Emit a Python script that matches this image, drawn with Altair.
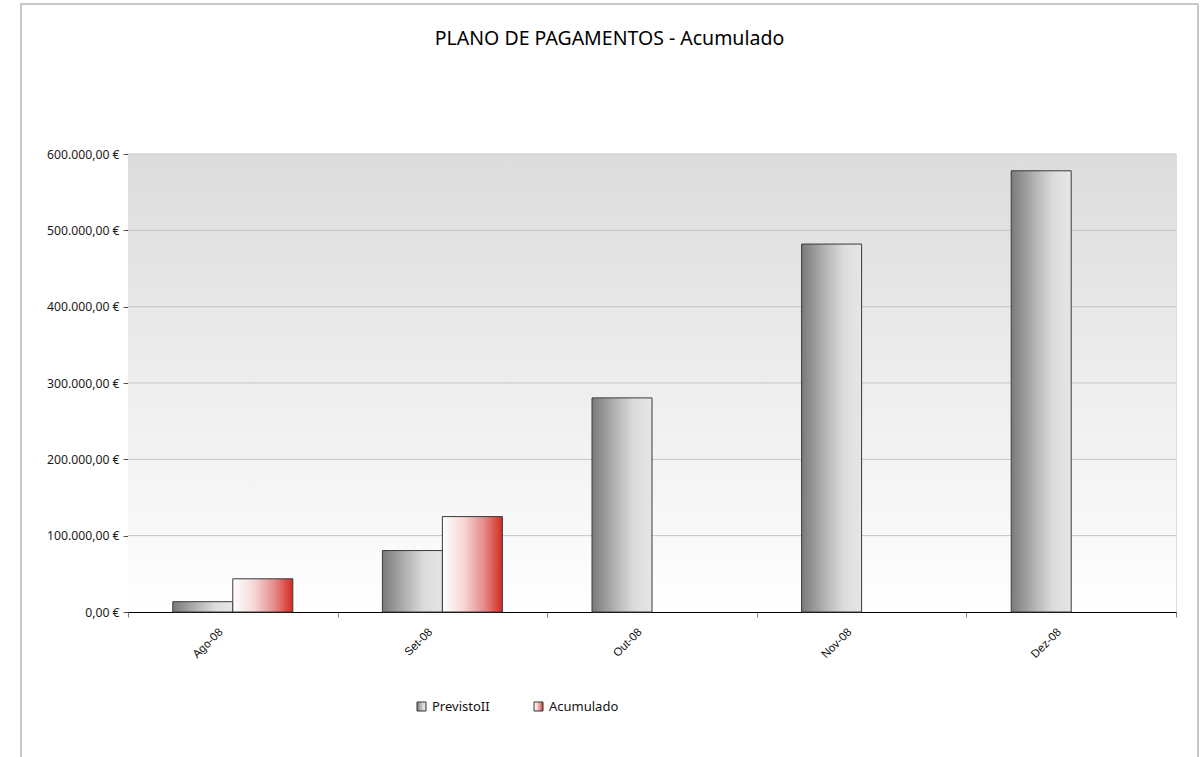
import altair as alt
import pandas as pd

# Monthly cumulative payment plan (EUR)
meses = ["Ago-08", "Set-08", "Out-08", "Nov-08", "Dez-08"]
series = ["PrevistoII", "Acumulado"]
previsto = [13500, 80500, 280500, 482000, 578000]
acumulado = [43500, 125000, None, None, None]
y_ticks = [0, 100000, 200000, 300000, 400000, 500000, 600000]
titulo = "PLANO DE PAGAMENTOS - Acumulado"

W, H = 1048, 458

rows = []
for m, p, a in zip(meses, previsto, acumulado):
    rows.append({"mes": m, "serie": series[0], "valor": p})
    if a is not None:
        rows.append({"mes": m, "serie": series[1], "valor": a})
df = pd.DataFrame(rows)
grid_df = pd.DataFrame({"valor": y_ticks[1:]})
one = pd.DataFrame({"k": [0]})

grad_prev = alt.LinearGradient(
    gradient="linear", x1=0, x2=1, y1=0, y2=0,
    stops=[alt.GradientStop(color="#7a7a7a", offset=0),
           alt.GradientStop(color="#b4b4b4", offset=0.4),
           alt.GradientStop(color="#dcdcdc", offset=0.7),
           alt.GradientStop(color="#e6e6e6", offset=1)])
grad_acum = alt.LinearGradient(
    gradient="linear", x1=0, x2=1, y1=0, y2=0,
    stops=[alt.GradientStop(color="#ffffff", offset=0),
           alt.GradientStop(color="#f6d8d8", offset=0.35),
           alt.GradientStop(color="#e48a88", offset=0.7),
           alt.GradientStop(color="#d42a22", offset=1)])
grad_bg = alt.LinearGradient(
    gradient="linear", x1=0, x2=0, y1=0, y2=1,
    stops=[alt.GradientStop(color="#dcdcdc", offset=0),
           alt.GradientStop(color="#ffffff", offset=1)])

x_enc = alt.X("mes:N", sort=meses,
              scale=alt.Scale(paddingInner=0, paddingOuter=0),
              axis=alt.Axis(title=None, labelAngle=-45, tickBand="extent",
                            labelAlign="right", labelBaseline="middle",
                            labelFont="Liberation Sans", labelFontSize=11.5,
                            labelColor="#111111", domainColor="#000000",
                            tickColor="#808080", tickSize=5, grid=False,
                            labelOffset=-12, labelPadding=13))
y_enc = alt.Y("valor:Q",
              scale=alt.Scale(domain=[0, 600000], nice=False),
              axis=alt.Axis(title=None, values=y_ticks, format="$,.2f",
                            grid=False, labelFont="Noto Sans",
                            labelFontSize=12.2, labelColor="#1a1a1a",
                            domainColor="#555555", tickColor="#555555",
                            tickSize=5, labelPadding=4))
xo_enc = alt.XOffset("serie:N", scale=alt.Scale(domain=series,
                                                paddingInner=0,
                                                paddingOuter=0.7467))

frame = alt.Chart(one).mark_rect(fill="transparent", stroke="#c8c8c8",
                                 strokeWidth=2).encode(
    x=alt.value(-107), x2=alt.value(1070),
    y=alt.value(-150), y2=alt.value(H + 200))

background = alt.Chart(one).mark_rect(fill=grad_bg).encode(
    x=alt.value(0), x2=alt.value(W), y=alt.value(0), y2=alt.value(H))

gridlines = alt.Chart(grid_df).mark_rule(
    color="#c4c4c4", strokeWidth=1).encode(y=y_enc)

base = alt.Chart(df).encode(x=x_enc, y=y_enc, xOffset=xo_enc)
bars_prev = base.transform_filter(alt.datum.serie == series[0]).mark_bar(
    fill=grad_prev, stroke="#3a3a3a", strokeWidth=1)
bars_acum = base.transform_filter(alt.datum.serie == series[1]).mark_bar(
    fill=grad_acum, stroke="#3a3a3a", strokeWidth=1)

leg_sq1 = alt.Chart(one).mark_rect(fill=grad_prev, stroke="#333333",
                                   strokeWidth=1).encode(
    x=alt.value(289), x2=alt.value(298), y=alt.value(548), y2=alt.value(557))
leg_sq2 = alt.Chart(one).mark_rect(fill=grad_acum, stroke="#333333",
                                   strokeWidth=1).encode(
    x=alt.value(406), x2=alt.value(415), y=alt.value(548), y2=alt.value(557))
leg_t1 = alt.Chart(one).mark_text(text=series[0], font="Noto Sans",
                                  fontSize=13, align="left",
                                  baseline="alphabetic", color="#111111").encode(
    x=alt.value(304), y=alt.value(556.5))
leg_t2 = alt.Chart(one).mark_text(text=series[1], font="Noto Sans",
                                  fontSize=13, align="left",
                                  baseline="alphabetic", color="#111111").encode(
    x=alt.value(421), y=alt.value(556.5))

title = alt.Chart(one).mark_text(text=titulo, font="Noto Sans", fontSize=19.5,
                                 align="center", baseline="alphabetic",
                                 color="#000000").encode(
    x=alt.value(481.5), y=alt.value(-109))

chart = alt.layer(
    frame, background, gridlines, bars_prev, bars_acum,
    leg_sq1, leg_sq2, leg_t1, leg_t2, title
).properties(
    width=W, height=H,
    autosize=alt.AutoSizeParams(type="none"),
    padding={"left": 128, "top": 154, "right": 28, "bottom": 145},
).configure_view(stroke=None).configure(
    background="#ffffff",
    locale={"number": {"decimal": ",", "thousands": ".", "grouping": [3],
                       "currency": ["", "\u00a0€"]}},
)

chart.save("out.html", embed_options={"renderer": "svg", "actions": False})
